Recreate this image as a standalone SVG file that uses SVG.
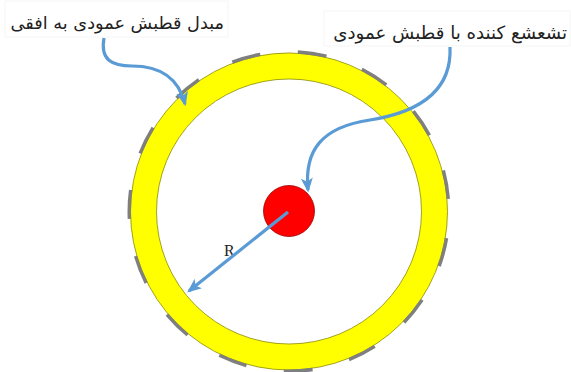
<svg xmlns="http://www.w3.org/2000/svg" width="571" height="372" viewBox="0 0 571 372">
<style>
.lbl{font-family:"DejaVu Sans","Noto Sans",sans-serif;fill:#222;direction:rtl}
.conn{fill:none;stroke:#5B9BD5;stroke-width:3.2}
.box{fill:#fff;stroke:#f5f5f5;stroke-width:1}
</style>
<defs>
<marker id="ah" viewBox="0 0 12 10" refX="10" refY="5" markerWidth="4.5" markerHeight="3.8" orient="auto" markerUnits="strokeWidth">
<path d="M0,0 L12,5 L0,10 L3,5 z" fill="#5B9BD5"/>
</marker>
</defs>
<rect width="571" height="372" fill="#fff"/>
<g id="ring">
<circle cx="289" cy="211.5" r="145.5" fill="none" stroke="#FFFF00" stroke-width="26"/>
<circle cx="289" cy="211.5" r="158.5" fill="none" stroke="#8a8a00" stroke-width="0.8"/>
<circle cx="289" cy="211.5" r="132.5" fill="none" stroke="#8a8a00" stroke-width="0.8"/>
<circle cx="289" cy="211.5" r="159.8" fill="none" stroke="#7f7f7f" stroke-width="3.4" stroke-dasharray="29 37.8" stroke-dashoffset="40"/>
</g>
<g id="source">
<circle cx="289" cy="211" r="25.5" fill="#FF0000" stroke="#a00000" stroke-width="0.8"/>
</g>
<g id="label-converter">
<rect class="box" x="5" y="1" width="223" height="36"/>
<text class="lbl" x="224" y="29" font-size="17.7" text-anchor="start">مبدل قطبش عمودی به افقی</text>
</g>
<g id="label-radiator">
<rect class="box" x="324" y="11" width="246" height="35"/>
<text class="lbl" x="567" y="39" font-size="18.2" text-anchor="start">تشعشع کننده با قطبش عمودی</text>
</g>
<g id="label-R">
<text x="224" y="256" font-family="Liberation Serif,serif" font-size="16" fill="#222">R</text>
</g>
<g id="connectors">
<path class="conn" d="M104,38 C100,60 112,66 132,66 C158,66 178,76 185,104" marker-end="url(#ah)"/>
<path class="conn" d="M450,47 C452,90 420,112 370,120 C322,127 304,150 308,190" marker-end="url(#ah)"/>
<path class="conn" d="M288,212 L189,291" marker-end="url(#ah)"/>
</g>
</svg>
